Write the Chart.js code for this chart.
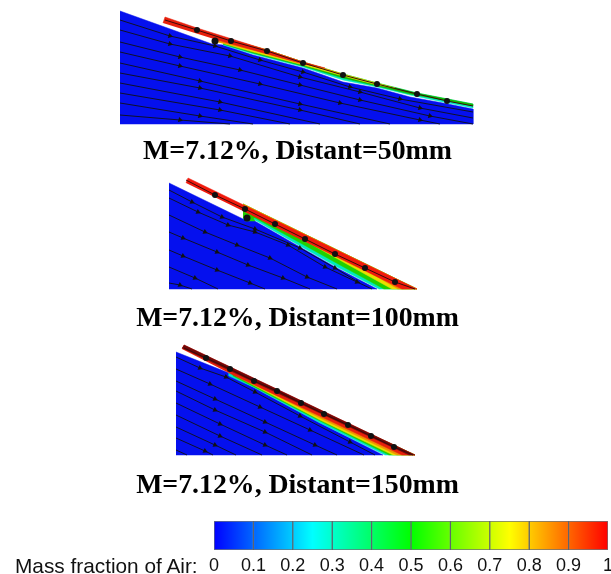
<!DOCTYPE html>
<html>
<head>
<meta charset="utf-8">
<script src="https://cdn.jsdelivr.net/npm/chart.js@4"></script>
<style>
html, body { margin:0; padding:0; background:#fff; overflow:hidden; }
#page { position:relative; width:611px; height:574px; overflow:hidden; }
#field { position:absolute; left:0; top:0; filter:blur(0.6px); }
#bar { position:absolute; left:195px; top:510px; }
.cap { position:absolute; left:0; width:595px; text-align:center; font:bold 27.8px "Liberation Serif", serif; color:#000; white-space:nowrap; }
#barname { position:absolute; left:15px; top:554px; font:20.8px "Liberation Sans", sans-serif; color:#111; white-space:nowrap; }
</style>
</head>
<body>
<div id="page">
  <canvas id="field" width="611" height="510"></canvas>
  <div class="cap" style="top:134px">M=7.12%, Distant=50mm</div>
  <div class="cap" style="top:301px">M=7.12%, Distant=100mm</div>
  <div class="cap" style="top:468px">M=7.12%, Distant=150mm</div>
  <canvas id="bar" width="430" height="70"></canvas>
  <div id="barname">Mass fraction of Air:</div>
</div>
<script>
// --------------- DATA
var tickLabels = ["0","0.1","0.2","0.3","0.4","0.5","0.6","0.7","0.8","0.9","1"];
var tickValues = [0,0.1,0.2,0.3,0.4,0.5,0.6,0.7,0.8,0.9,1];
var barFractions = [0,0.25,0.5,0.75,1];
var barColors = ["#0000ff","#00ffff","#00ff00","#ffff00","#ff0000"];

// panel 1, 50mm
var blue1 = [[120,11],[212,44],[223,45],[253,55],[303,68],[343,82],[377,88],[410,97],[443,103],[473,109],[473,124],[120,124]];
var cyan1 = [[223,45],[253,54],[303,67],[343,80],[377,87],[410,95],[443,102],[473,108],[473,104],[417,93],[377,83],[343,74],[303,62],[267,50],[223,38]];
var green1 = [[223,44],[253,53],[303,66],[343,78],[377,86],[410,94],[443,100],[473,106],[473,104],[417,93],[377,83],[343,74],[303,62],[267,50],[223,38]];
var yellow1 = [[218,42],[253,52],[303,65],[343,76],[377,85],[395,88],[377,83],[343,74],[303,62],[267,50],[218,36]];
var orange1 = [[214,41],[253,50],[303,63],[345,75],[303,62],[267,50],[214,35]];
var red1 = [[163,23],[165,17],[197,28],[267,50],[303,62],[325,68],[303,64],[267,54],[214,39]];
var stream1 = [
  [[120,20],[170,36],[215,46],[260,60],[303,72],[350,87],[400,99],[473,112]],
  [[120,30],[170,44],[230,56],[300,77],[360,92],[420,108],[473,118]],
  [[120,42],[180,57],[240,70],[300,85],[360,100],[430,116],[473,124]],
  [[120,52],[180,66],[260,84],[340,103],[420,120],[440,124]],
  [[120,63],[200,81],[300,104],[390,124]],
  [[120,73],[200,88],[300,110],[360,124]],
  [[120,83],[220,102],[320,124]],
  [[120,93],[220,110],[290,124]],
  [[120,103],[200,116],[253,124]],
  [[120,115],[180,120],[230,124]]
];
var wall1 = [[165,20],[197,30],[231,41],[267,51],[303,63],[343,75],[377,84],[417,94],[447,101],[473,106]];
var blob1 = [[215,41]];

// panel 2, 100mm
var blue2 = [[169,183],[243,219],[253,220],[293,243],[337,268],[377,289],[169,289]];
var cyan2 = [[243,219],[253,219],[293,242],[337,267],[379,289],[417,289],[243,204]];
var green2 = [[243,218],[255,218],[295,240],[340,265],[384,289],[417,289],[243,204]];
var yellow2 = [[262,220],[300,238],[345,263],[392,289],[417,289],[243,204]];
var orange2 = [[270,221],[305,238],[350,261],[398,289],[417,289],[243,204]];
var red2 = [[186,183],[188,178],[417,289],[402,289],[243,211]];
var stream2 = [
  [[169,190],[192,202],[222,217],[255,229],[300,248],[335,268],[360,283]],
  [[169,198],[198,212],[228,225],[255,232],[288,245],[325,267],[357,282],[372,289]],
  [[169,215],[205,232],[237,245],[270,258],[307,277],[337,289]],
  [[169,232],[183,238],[217,252],[248,265],[283,278],[310,289]],
  [[169,250],[183,256],[217,270],[250,283],[265,289]],
  [[169,267],[195,278],[218,289]],
  [[169,283],[180,285],[192,289]]
];
var wall2 = [[186,180],[215,195],[245,209],[275,224],[305,239],[335,254],[365,268],[395,282],[415,289]];
var blob2 = [[247,218]];
var patch2 = [[243,212],[252,216],[255,221],[245,221]];

// panel 3, 150mm
var blue3 = [[176,352],[229,373],[229,375],[253,387],[277,400],[320,423],[383,455],[176,455]];
var cyan3 = [[229,373],[229,376],[253,387],[320,423],[385,455],[415,455],[229,369]];
var green3 = [[233,376],[320,421],[389,455],[415,455],[229,369]];
var yellow3 = [[236,376],[320,420],[393,455],[415,455],[229,369]];
var orange3 = [[240,377],[320,418],[397,455],[415,455],[229,369]];
var red3 = [[182,349],[184,345],[415,455],[402,455],[229,373]];
var darkred3 = [[184,345],[415,455],[409,455],[182,348]];
var stream3 = [
  [[176,357],[200,368],[226,377],[255,392],[300,416],[350,442],[375,455]],
  [[176,369],[210,384],[260,407],[310,430],[364,455]],
  [[176,381],[215,399],[265,422],[315,445],[337,455]],
  [[176,391],[215,410],[265,432],[312,455]],
  [[176,403],[220,424],[265,445],[287,455]],
  [[176,415],[220,436],[262,455]],
  [[176,427],[215,445],[236,455]],
  [[176,438],[205,451],[213,455]],
  [[176,450],[187,455]]
];
var wall3 = [[184,348],[206,358],[230,369],[254,381],[277,391],[301,403],[324,414],[348,425],[371,436],[394,447],[413,455]];

// --------------- FIELD
function pts(list){
    return list.map(function(p){ return {x:p[0], y:p[1]}; });
}
function shape(list, color){
    return {data:pts(list), showLine:true, fill:'shape', backgroundColor:color, borderColor:color, borderWidth:0.5, pointRadius:0};
}
function endless(ctx){
    var n = ctx.dataset.data.length;
    return (ctx.dataIndex == 0 || ctx.dataIndex == n-1) ? 0 : 3;
}
function stream(list, angle){
    return {data:pts(list), showLine:true, fill:false, borderColor:'#111', borderWidth:0.9,
        pointStyle:'triangle', pointRotation:angle, pointRadius:endless, pointBackgroundColor:'#111', pointBorderWidth:0};
}
function wall(list){
    return {data:pts(list), showLine:true, fill:false, borderColor:'#3a0a0a', borderWidth:1,
        pointStyle:'circle', pointRadius:endless, pointBackgroundColor:'#111', pointBorderWidth:0};
}
function blob(list){
    return {data:pts(list), pointStyle:'circle', pointRadius:3.5, pointBackgroundColor:'#111', pointBorderWidth:0};
}

var sets = [];
sets.push(shape(blue1,'#0510ee'), shape(cyan1,'#00e8c0'), shape(green1,'#12b800'), shape(yellow1,'#e8e000'), shape(orange1,'#f09000'), shape(red1,'#e8200c'));
stream1.forEach(function(l){ sets.push(stream(l,105)); });
sets.push(wall(wall1), blob(blob1));

sets.push(shape(blue2,'#0510ee'), shape(cyan2,'#00e8c0'), shape(green2,'#20d000'), shape(yellow2,'#e8e000'), shape(orange2,'#f09000'), shape(red2,'#f01a0c'));
stream2.forEach(function(l){ sets.push(stream(l,115)); });
sets.push(wall(wall2), shape(patch2,'#20d000'), blob(blob2));

sets.push(shape(blue3,'#0510ee'), shape(cyan3,'#00e0d0'), shape(green3,'#20d000'), shape(yellow3,'#e8e000'), shape(orange3,'#f09000'), shape(red3,'#e8200c'), shape(darkred3,'#700808'));
stream3.forEach(function(l){ sets.push(stream(l,115)); });
sets.push(wall(wall3));

// chart.js paints the first dataset last, so the list goes in backwards
sets.reverse();

new Chart(document.getElementById("field"), {
    type:'scatter',
    data:{datasets:sets},
    options:{
        responsive:false,
        animation:false,
        layout:{padding:0, autoPadding:false},
        plugins:{legend:{display:false}, tooltip:{enabled:false}},
        scales:{
            x:{type:'linear', min:0, max:611, display:false},
            y:{type:'linear', min:0, max:510, reverse:true, display:false}
        }
    }
});

// --------------- COLOUR BAR
var barChart = new Chart(document.getElementById("bar"), {
    type:'bar',
    data:{
        labels:["air"],
        datasets:tickValues.slice(1).map(function(v,i){
            return {
                data:[[tickValues[i], v]],
                backgroundColor:function(c){
                    var a = c.chart.chartArea;
                    if (!a) { return '#00f'; }
                    var g = c.chart.ctx.createLinearGradient(a.left,0,a.right,0);
                    barFractions.forEach(function(f,k){ g.addColorStop(f, barColors[k]); });
                    return g;
                },
                borderColor:'rgba(30,40,50,0.65)',
                borderWidth:1,
                borderSkipped:false,
                barPercentage:1,
                categoryPercentage:1,
                grouped:false
            };
        })
    },
    options:{
        indexAxis:'y',
        responsive:false,
        animation:false,
        layout:{padding:{left:19, right:17, top:11, bottom:1}, autoPadding:false},
        plugins:{legend:{display:false}, tooltip:{enabled:false}},
        scales:{
            x:{type:'linear', min:0, max:1,
               grid:{display:false, drawTicks:false}, border:{display:false},
               afterBuildTicks:function(ax){ ax.ticks = tickValues.map(function(v){ return {value:v}; }); },
               ticks:{autoSkip:false, maxRotation:0, padding:5, color:'#111',
                      font:{family:'"Liberation Sans", sans-serif', size:18},
                      callback:function(v,i){ return tickLabels[i]; }}},
            y:{display:false, grid:{display:false}}
        }
    }
});
</script>
</body>
</html>
